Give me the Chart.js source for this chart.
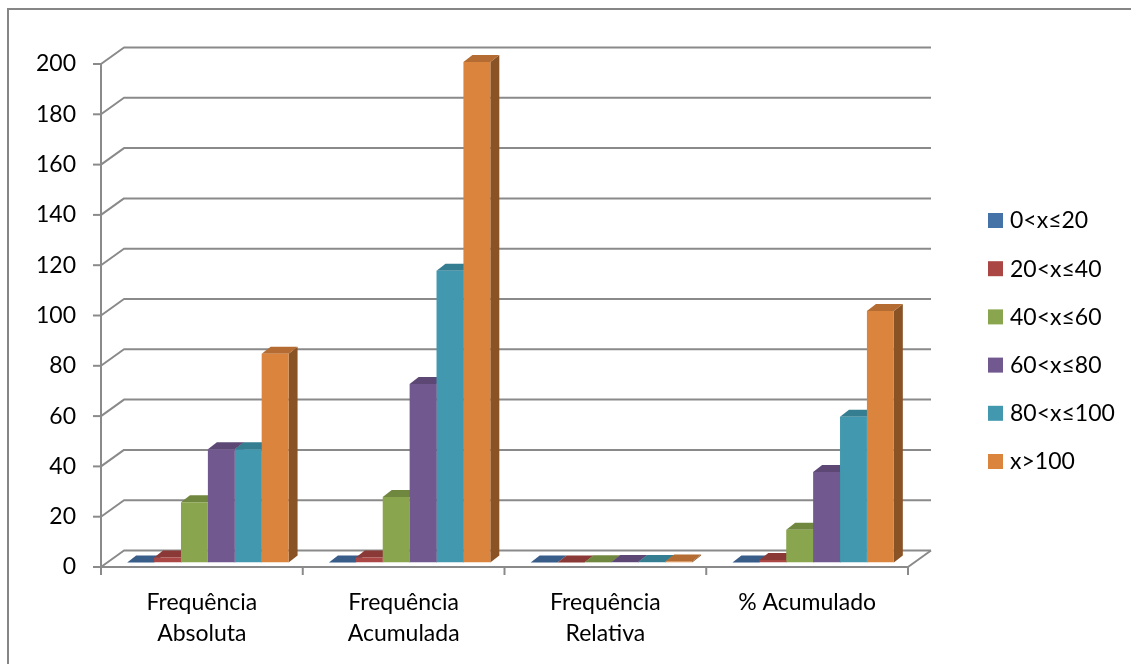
<!DOCTYPE html>
<html>
<head>
<meta charset="utf-8">
<script src="https://cdn.jsdelivr.net/npm/chart.js@4"></script>
<style>
  html, body { margin: 0; padding: 0; background: #fff; }
  #wrap { position: relative; width: 1131px; height: 664px; }
</style>
</head>
<body>
<div id="wrap"><canvas id="myChart"></canvas></div>
<script>
const categories = [["Frequência", "Absoluta"], ["Frequência", "Acumulada"], ["Frequência", "Relativa"], "% Acumulado"];
const seriesNames = ["0<x≤20", "20<x≤40", "40<x≤60", "60<x≤80", "80<x≤100", "x>100"];
const range0to20 = [0, 0, 0, 0];
const range20to40 = [2, 2, 0.01, 1];
const range40to60 = [24, 26, 0.12, 13];
const range60to80 = [45, 71, 0.23, 36];
const range80to100 = [45, 116, 0.23, 58];
const rangeOver100 = [83, 199, 0.42, 100];
const yMax = 200;
const yStep = 20;

const seriesValues = [range0to20, range20to40, range40to60, range60to80, range80to100, rangeOver100];
const colors = ["#4572A7", "#AA4643", "#89A54E", "#71588F", "#4198AF", "#DB843D"];

// oblique projection offsets relative to the plane of the bar fronts
const FRONT = [-6, 4.5];
const BACK = [17, -12];
const BAR_DEPTH = [9, -7];
const GRID = "#8a8a8a";
const FONT = { family: "Lato", size: 23 };

function shade(hex, k) {
  const n = parseInt(hex.slice(1), 16);
  const r = Math.round(((n >> 16) & 255) * k);
  const g = Math.round(((n >> 8) & 255) * k);
  const b = Math.round((n & 255) * k);
  return `rgb(${r},${g},${b})`;
}

function poly(ctx, pts, fill) {
  ctx.beginPath();
  ctx.moveTo(pts[0][0], pts[0][1]);
  for (let i = 1; i < pts.length; i++) ctx.lineTo(pts[i][0], pts[i][1]);
  ctx.closePath();
  ctx.fillStyle = fill;
  ctx.fill();
}

const box3d = {
  id: "box3d",
  beforeDraw(chart) {
    const ctx = chart.ctx;
    ctx.save();
    ctx.strokeStyle = "#868686";
    ctx.lineWidth = 2;
    ctx.strokeRect(8, 9, 1300, 900);
    ctx.restore();
  },
  beforeDatasetsDraw(chart) {
    const { ctx, chartArea: a, scales: { x, y } } = chart;
    const y0 = y.getPixelForValue(0);
    const yTop = y.getPixelForValue(yMax);
    ctx.save();
    ctx.strokeStyle = GRID;
    ctx.lineWidth = 2;
    ctx.lineJoin = "round";

    // side wall + back wall gridlines
    y.ticks.forEach((t) => {
      const py = y.getPixelForValue(t.value);
      ctx.beginPath();
      ctx.moveTo(a.left + FRONT[0], py + FRONT[1]);
      ctx.lineTo(a.left + BACK[0], py + BACK[1]);
      ctx.lineTo(a.right + BACK[0], py + BACK[1]);
      ctx.stroke();
      // tick mark on the value axis
      ctx.beginPath();
      ctx.moveTo(a.left + FRONT[0] - 8, py + FRONT[1]);
      ctx.lineTo(a.left + FRONT[0], py + FRONT[1]);
      ctx.stroke();
    });

    // floor edges and value axis
    ctx.beginPath();
    ctx.moveTo(a.left + FRONT[0], yTop + FRONT[1]);
    ctx.lineTo(a.left + FRONT[0], y0 + FRONT[1]);
    ctx.lineTo(a.right + FRONT[0], y0 + FRONT[1]);
    ctx.lineTo(a.right + BACK[0], y0 + BACK[1]);
    ctx.stroke();

    // category tick marks
    for (let i = 0; i <= categories.length; i++) {
      const px = x.getPixelForValue(i - 0.5) + FRONT[0];
      ctx.beginPath();
      ctx.moveTo(px, y0 + FRONT[1]);
      ctx.lineTo(px, y0 + FRONT[1] + 8);
      ctx.stroke();
    }

    // top and side faces, left to right, so nearer bars cover them
    for (let j = 0; j < categories.length; j++) {
      chart.data.datasets.forEach((ds, i) => {
        const bar = chart.getDatasetMeta(i).data[j];
        const p = bar.getProps(["x", "y", "base", "width"], true);
        const l = p.x - p.width / 2;
        const r = p.x + p.width / 2;
        const top = Math.min(p.y, p.base);
        const [dx, dy] = BAR_DEPTH;
        poly(ctx, [[r, top], [r + dx, top + dy], [r + dx, p.base + dy], [r, p.base]], shade(colors[i], 0.63));
        poly(ctx, [[l, top], [r, top], [r + dx, top + dy], [l + dx, top + dy]], shade(colors[i], 0.82));
      });
    }
    ctx.restore();
  },
  afterDraw(chart) {
    const ctx = chart.ctx;
    ctx.save();
    ctx.font = `${FONT.size}px ${FONT.family}`;
    ctx.textBaseline = "middle";
    ctx.fillStyle = "#000";
    chart.data.datasets.forEach((ds, i) => {
      const cy = 220 + i * 48.2;
      ctx.fillStyle = colors[i];
      ctx.fillRect(988, cy - 7, 15, 15);
      ctx.fillStyle = "#000";
      ctx.fillText(ds.label, 1010, cy + 1);
    });
    ctx.restore();
  },
};

Chart.defaults.font.family = FONT.family;
Chart.defaults.color = "#000";

new Chart(document.getElementById("myChart"), {
  type: "bar",
  data: {
    labels: categories,
    datasets: seriesNames.map((name, i) => ({
      label: name,
      data: seriesValues[i],
      backgroundColor: colors[i],
      borderWidth: 0,
      categoryPercentage: 0.8,
      barPercentage: 1.0,
    })),
  },
  options: {
    responsive: true,
    maintainAspectRatio: false,
    animation: false,
    layout: { padding: { left: 0, top: 59.5, right: 217, bottom: 0 } },
    plugins: { legend: { display: false }, tooltip: { enabled: false } },
    scales: {
      x: {
        grid: { display: false, drawTicks: false },
        border: { display: false },
        ticks: { font: { size: FONT.size, lineHeight: 1.37 }, labelOffset: -6, padding: 24, maxRotation: 0, autoSkip: false },
        afterFit: (scale) => { scale.height = 101.5; },
      },
      y: {
        min: 0,
        max: yMax,
        grid: { display: false, drawTicks: false },
        border: { display: false },
        ticks: { stepSize: yStep, font: { size: FONT.size }, labelOffset: 4.5, padding: 31 },
        afterFit: (scale) => { scale.width = 107; },
      },
    },
  },
  plugins: [box3d],
});
</script>
</body>
</html>
